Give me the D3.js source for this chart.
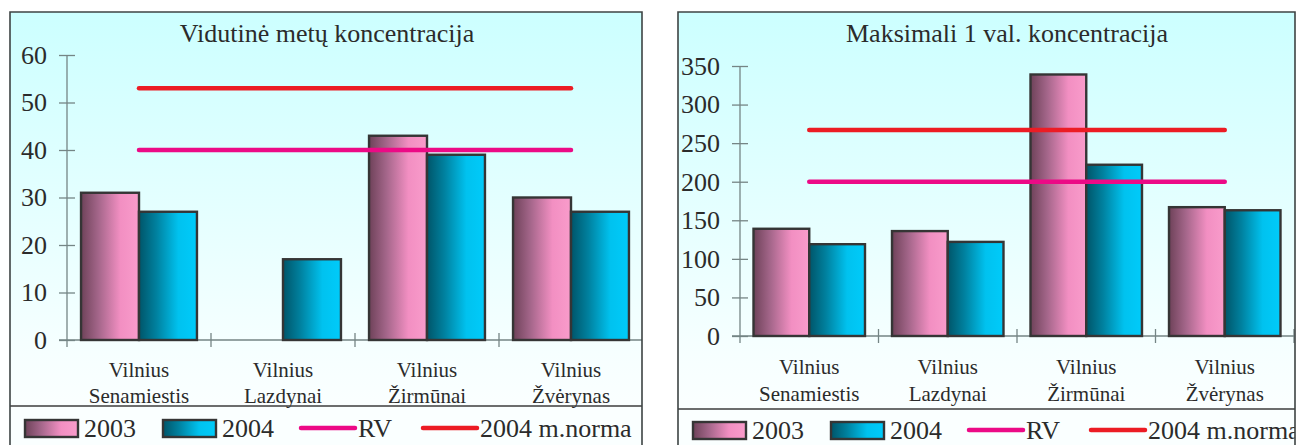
<!DOCTYPE html>
<html>
<head>
<meta charset="utf-8">
<script src="https://cdn.jsdelivr.net/npm/d3@7"></script>
<style>
  html, body { margin: 0; padding: 0; background: #ffffff; overflow: hidden; }
  svg { display: block; }
  svg text { font-family: "Liberation Serif", "Times New Roman", serif; }
</style>
</head>
<body>
<svg id="chart" width="1299" height="445"></svg>
<script>
// ---- data ----
const categories = [
  ["Vilnius", "Senamiestis"],
  ["Vilnius", "Lazdynai"],
  ["Vilnius", "Žirmūnai"],
  ["Vilnius", "Žvėrynas"]
];
const seriesNames = ["2003", "2004"];
const refNames = ["RV", "2004 m.norma"];

// annual mean concentration
const annualTitle = "Vidutinė metų koncentracija";
const annual2003 = [31, null, 43, 30];
const annual2004 = [27, 17, 39, 27];
const annualRV = 40;
const annualNorm = 53;
const annualTicks = [0, 10, 20, 30, 40, 50, 60];

// maximum 1-hour concentration
const hourlyTitle = "Maksimali 1 val. koncentracija";
const hourly2003 = [139, 136, 339, 167];
const hourly2004 = [119, 122, 222, 163];
const hourlyRV = 200;
const hourlyNorm = 267;
const hourlyTicks = [0, 50, 100, 150, 200, 250, 300, 350];

// ---- styling ----
const textColor = "#2b2b2b";
const axisColor = "#758585";
const barStroke = "#353535";
const rvColor = "#ec0a86";
const normColor = "#ec1c24";

const svg = d3.select("#chart");
const defs = svg.append("defs");

function hGradient(id, stops) {
  const g = defs.append("linearGradient").attr("id", id)
    .attr("x1", "0%").attr("x2", "100%").attr("y1", "0%").attr("y2", "0%");
  stops.forEach(([o, c]) => g.append("stop").attr("offset", o).attr("stop-color", c));
}
hGradient("grad2003", [["0%", "#6e4259"], ["30%", "#a4668a"], ["68%", "#f28fc2"], ["100%", "#f99ccb"]]);
hGradient("grad2004", [["0%", "#005569"], ["30%", "#00819f"], ["68%", "#00c2ef"], ["100%", "#00cbfa"]]);
const seriesFill = ["url(#grad2003)", "url(#grad2004)"];

const bg = defs.append("linearGradient").attr("id", "panelBg")
  .attr("gradientUnits", "userSpaceOnUse")
  .attr("x1", 0).attr("x2", 0).attr("y1", 12).attr("y2", 400);
bg.append("stop").attr("offset", "0%").attr("stop-color", "#ccffff");
bg.append("stop").attr("offset", "85%").attr("stop-color", "#f5ffff");
bg.append("stop").attr("offset", "100%").attr("stop-color", "#fafffF");

function drawPanel(cfg) {
  const clipId = "clip-" + cfg.key;
  defs.append("clipPath").attr("id", clipId)
    .append("rect").attr("x", cfg.x0).attr("y", cfg.top)
    .attr("width", cfg.x1 - cfg.x0).attr("height", 460 - cfg.top);

  const g = svg.append("g");
  // panel background
  g.append("rect")
    .attr("x", cfg.x0).attr("y", cfg.top)
    .attr("width", cfg.x1 - cfg.x0).attr("height", 460 - cfg.top)
    .attr("fill", "url(#panelBg)");

  const inner = g.append("g").attr("clip-path", `url(#${clipId})`);

  const x = d3.scaleBand()
    .domain(d3.range(categories.length))
    .range([cfg.plotLeft, cfg.plotRight])
    .paddingInner(0).paddingOuter(0);
  const bw = x.bandwidth();
  const xs = d3.scaleBand()
    .domain(seriesNames)
    .range([bw * 0.0975, bw * 0.9025]);

  const y = d3.scaleLinear()
    .domain([0, d3.max(cfg.ticks)])
    .range([cfg.y0, cfg.yTop]);

  // title
  inner.append("text")
    .attr("x", cfg.titleX).attr("y", 42)
    .attr("text-anchor", "middle")
    .attr("font-size", 26).attr("fill", textColor)
    .text(cfg.title);

  // y axis
  const yAxis = d3.axisLeft(y)
    .tickValues(cfg.ticks)
    .tickSize(8)
    .tickPadding(12)
    .tickFormat(d3.format("d"));
  const yg = inner.append("g")
    .attr("transform", `translate(${cfg.plotLeft},0)`)
    .call(yAxis)
    .attr("font-family", null).attr("font-size", null);
  yg.select(".domain").remove();
  yg.selectAll(".tick line").attr("x1", 8).attr("stroke", axisColor).attr("stroke-width", 1.3);
  yg.selectAll(".tick text")
    .attr("font-size", 26).attr("fill", textColor);
  inner.append("line")
    .attr("x1", cfg.plotLeft).attr("x2", cfg.plotLeft)
    .attr("y1", y(d3.max(cfg.ticks))).attr("y2", cfg.y0 + 7)
    .attr("stroke", axisColor).attr("stroke-width", 1.3);

  // x axis line and category boundary ticks
  inner.append("line")
    .attr("x1", cfg.plotLeft - 8).attr("x2", cfg.plotRight)
    .attr("y1", cfg.y0).attr("y2", cfg.y0)
    .attr("stroke", axisColor).attr("stroke-width", 1.3);
  const bounds = d3.range(1, categories.length + 1).map(i => cfg.plotLeft + i * bw);
  inner.selectAll("line.bound").data(bounds).enter().append("line")
    .attr("class", "bound")
    .attr("x1", d => d).attr("x2", d => d)
    .attr("y1", cfg.y0 - 7).attr("y2", cfg.y0 + 7)
    .attr("stroke", axisColor).attr("stroke-width", 1.3);

  // category labels via bottom axis
  const xAxis = d3.axisBottom(x).tickSize(0).tickFormat("");
  const xg = inner.append("g")
    .attr("transform", `translate(0,${cfg.y0})`)
    .call(xAxis)
    .attr("font-family", null).attr("font-size", null);
  xg.select(".domain").remove();
  xg.selectAll(".tick").each(function (i) {
    const t = d3.select(this).append("text")
      .attr("text-anchor", "middle")
      .attr("font-size", 21).attr("fill", textColor);
    categories[i].forEach((line, k) => {
      t.append("tspan").attr("x", 0).attr("y", cfg.labelY[k]).text(line);
    });
  });

  // bars
  const barData = [];
  categories.forEach((c, i) => {
    cfg.values.forEach((vals, s) => {
      if (vals[i] != null) barData.push({ i, s, v: vals[i] });
    });
  });
  inner.selectAll("rect.bar").data(barData).enter().append("rect")
    .attr("class", "bar")
    .attr("x", d => x(d.i) + xs(seriesNames[d.s]))
    .attr("y", d => y(d.v))
    .attr("width", xs.bandwidth())
    .attr("height", d => y(0) - y(d.v))
    .attr("fill", d => seriesFill[d.s])
    .attr("stroke", barStroke).attr("stroke-width", 2.4);

  // reference lines spanning first to last category centre
  const refLines = [
    { v: cfg.rv, color: rvColor },
    { v: cfg.norm, color: normColor }
  ];
  inner.selectAll("line.ref").data(refLines).enter().append("line")
    .attr("class", "ref")
    .attr("x1", x(0) + bw / 2)
    .attr("x2", x(categories.length - 1) + bw / 2)
    .attr("y1", d => y(d.v)).attr("y2", d => y(d.v))
    .attr("stroke", d => d.color).attr("stroke-width", 4.5)
    .attr("stroke-linecap", "round");

  // legend separator
  inner.append("line")
    .attr("x1", cfg.x0).attr("x2", cfg.x1)
    .attr("y1", cfg.sep).attr("y2", cfg.sep)
    .attr("stroke", "#3c3c3c").attr("stroke-width", 1.4);

  // legend
  const lg = inner.append("g").attr("transform", `translate(${cfg.x0},${cfg.legendY})`);
  seriesNames.forEach((name, s) => {
    const ox = [15, 153][s];
    lg.append("rect")
      .attr("x", ox).attr("y", -17).attr("width", 53).attr("height", 17)
      .attr("fill", seriesFill[s]).attr("stroke", barStroke).attr("stroke-width", 2.4);
    lg.append("text").attr("x", ox + 59).attr("y", 0)
      .attr("font-size", 26).attr("fill", textColor).text(name);
  });
  refNames.forEach((name, r) => {
    const ox = [291, 413][r];
    lg.append("line")
      .attr("x1", ox).attr("x2", ox + 54).attr("y1", -9).attr("y2", -9)
      .attr("stroke", refLines[r].color).attr("stroke-width", 4.5)
      .attr("stroke-linecap", "round");
    lg.append("text").attr("x", ox + 57).attr("y", 0)
      .attr("font-size", 26).attr("fill", textColor).text(name);
  });

  // panel frame (left, top, right)
  g.append("path")
    .attr("d", `M${cfg.x0},460 V${cfg.top} H${cfg.x1} V460`)
    .attr("fill", "none").attr("stroke", "#3e4444").attr("stroke-width", 1.6);
}

drawPanel({
  key: "annual", title: annualTitle,
  x0: 10, x1: 642, top: 12, sep: 406,
  plotLeft: 67, plotRight: 643, y0: 340, yTop: 55,
  ticks: annualTicks, values: [annual2003, annual2004],
  rv: annualRV, norm: annualNorm,
  titleX: 327, labelY: [37, 63], legendY: 437
});

drawPanel({
  key: "hourly", title: hourlyTitle,
  x0: 678, x1: 1295, top: 12, sep: 409,
  plotLeft: 740, plotRight: 1294, y0: 336, yTop: 66,
  ticks: hourlyTicks, values: [hourly2003, hourly2004],
  rv: hourlyRV, norm: hourlyNorm,
  titleX: 1007, labelY: [38, 65], legendY: 439
});
</script>
</body>
</html>
